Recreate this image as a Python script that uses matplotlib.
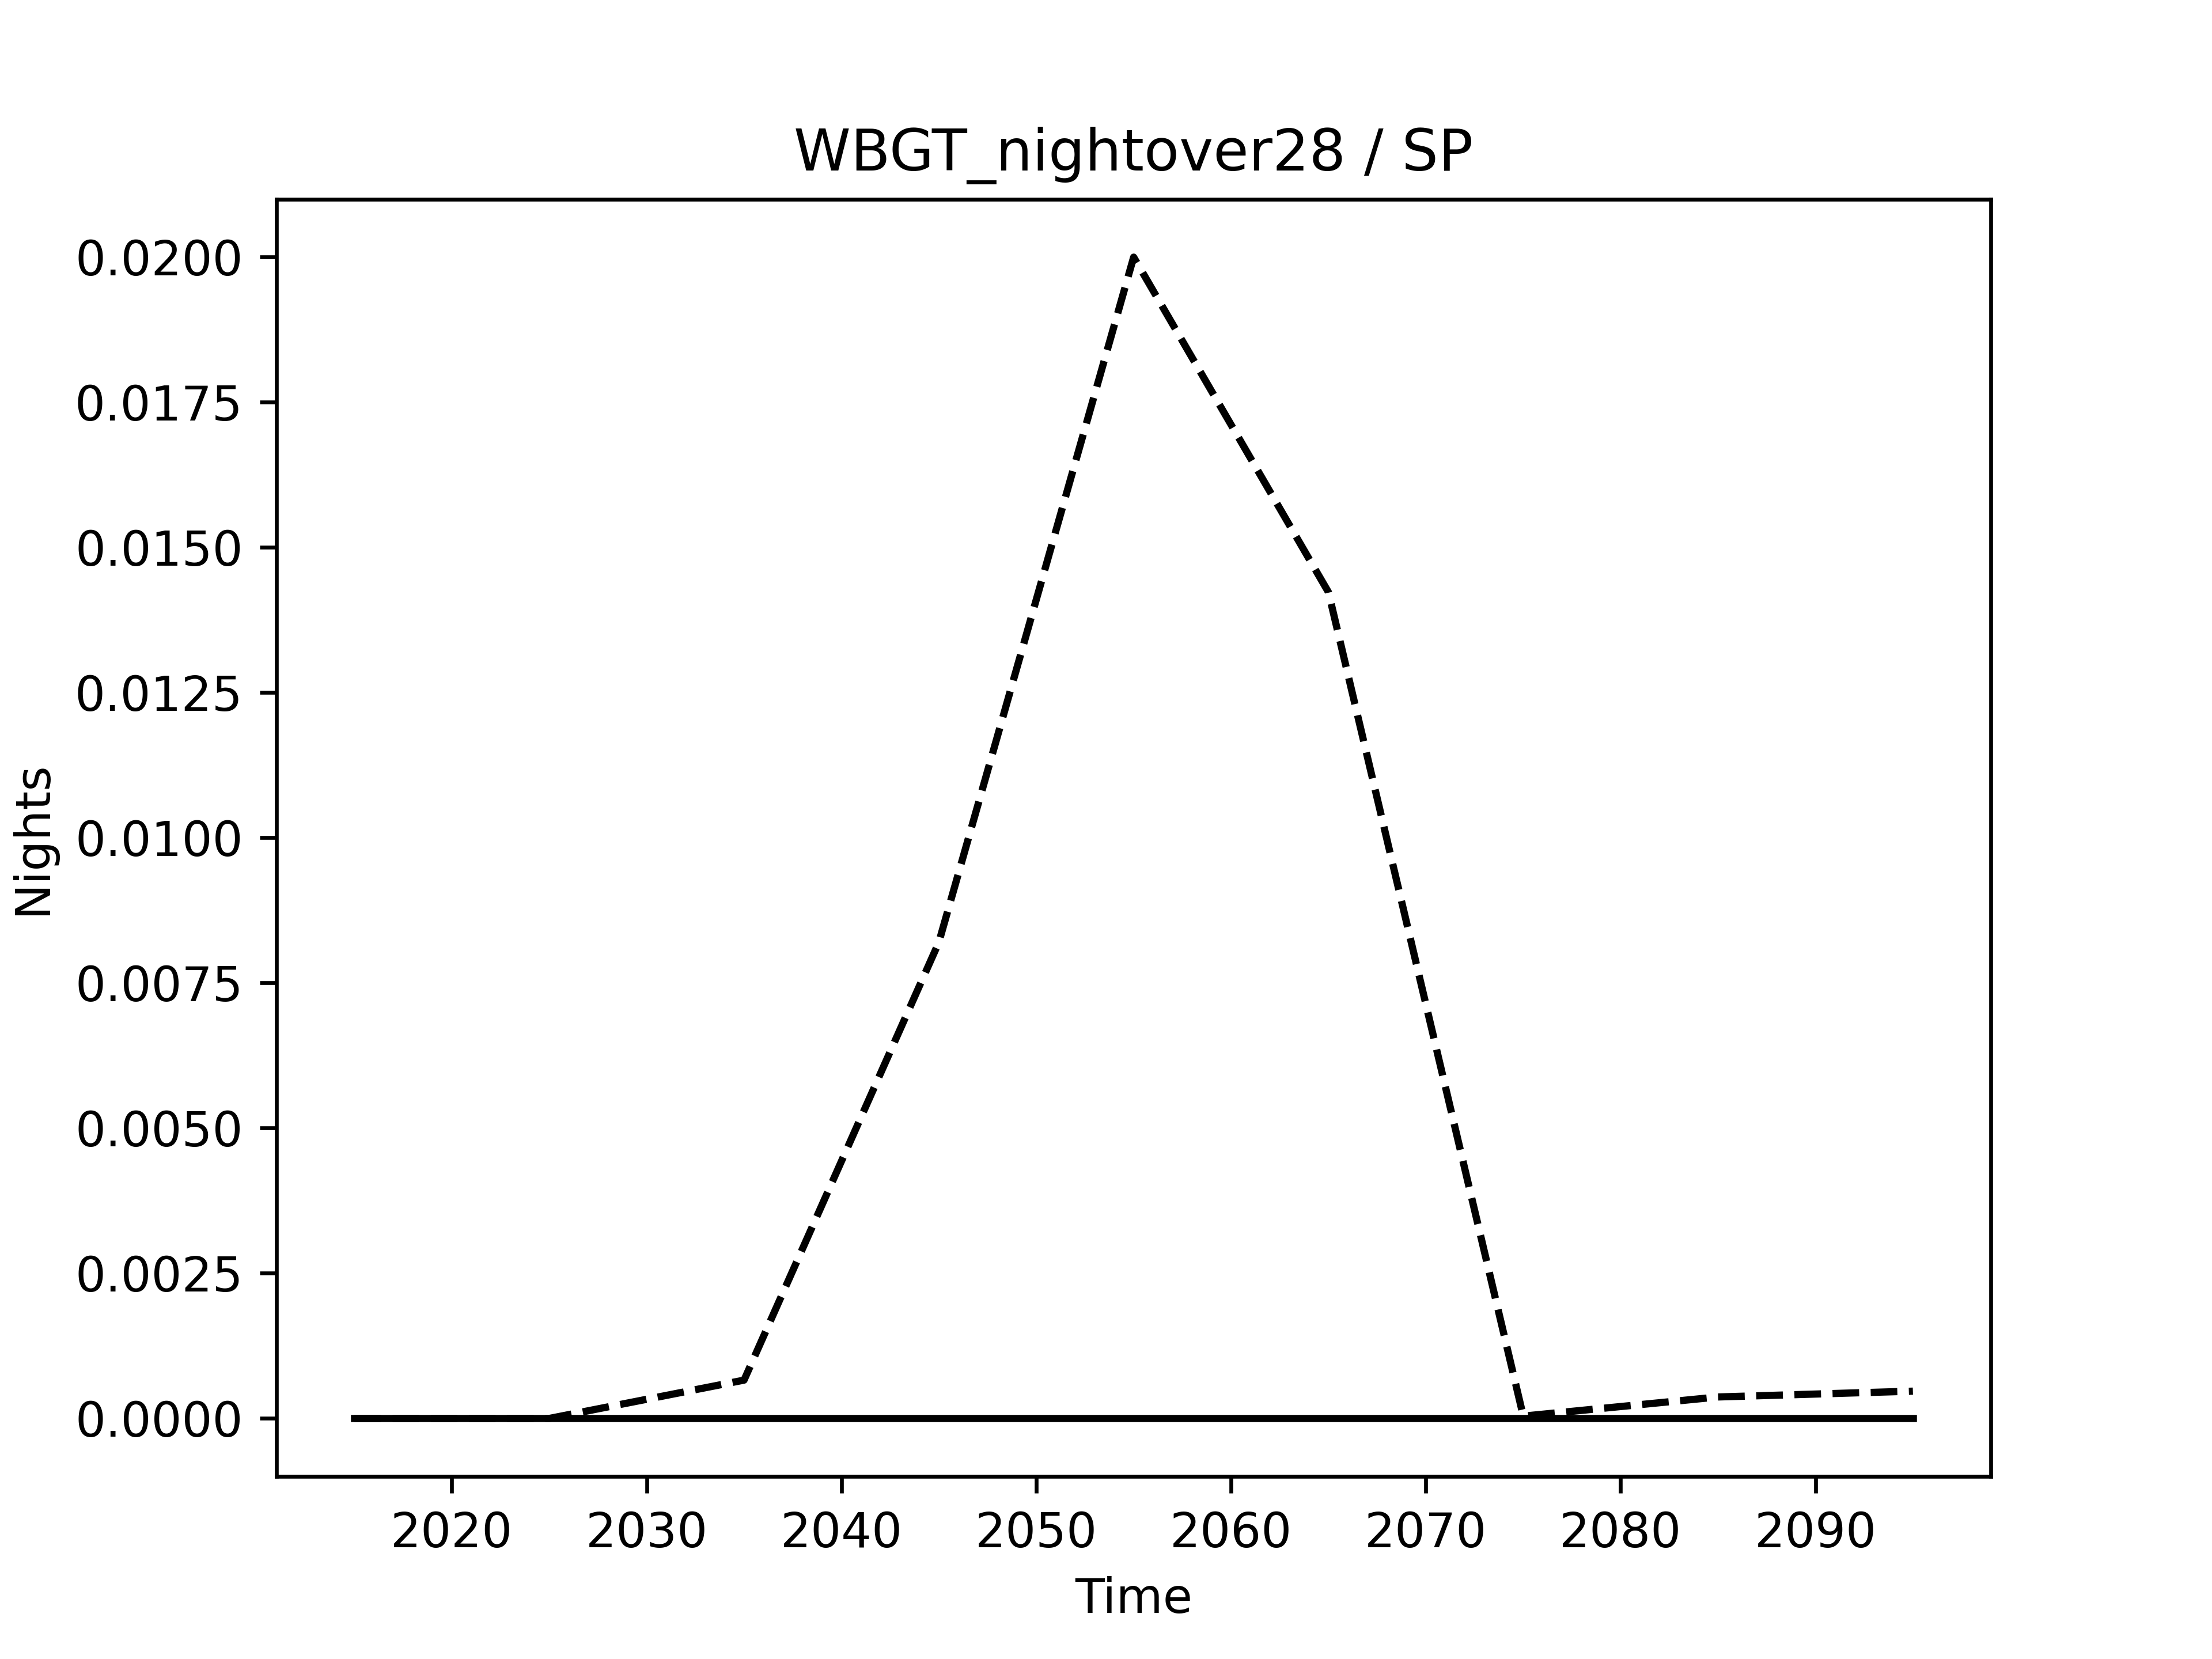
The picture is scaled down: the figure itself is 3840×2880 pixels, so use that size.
import matplotlib
matplotlib.use('Agg')
import matplotlib.pyplot as plt
import numpy as np

years = np.arange(2015, 2100, 10)
nights_dashed = [0.0, 0.0, 0.00066, 0.0082, 0.0200, 0.01423, 0.00004, 0.00037, 0.00047]
nights_solid = [0.0, 0.0, 0.0, 0.0, 0.0, 0.0, 0.0, 0.0, 0.0]

plt.figure(figsize=(6.4, 4.8), dpi=600)
plt.plot(years, nights_dashed, color='black', linestyle='--')
plt.plot(years, nights_solid, color='black', linestyle='-')

plt.title('WBGT_nightover28 / SP')
plt.xlabel('Time')
plt.ylabel('Nights')

plt.savefig('out.png', dpi=600)
